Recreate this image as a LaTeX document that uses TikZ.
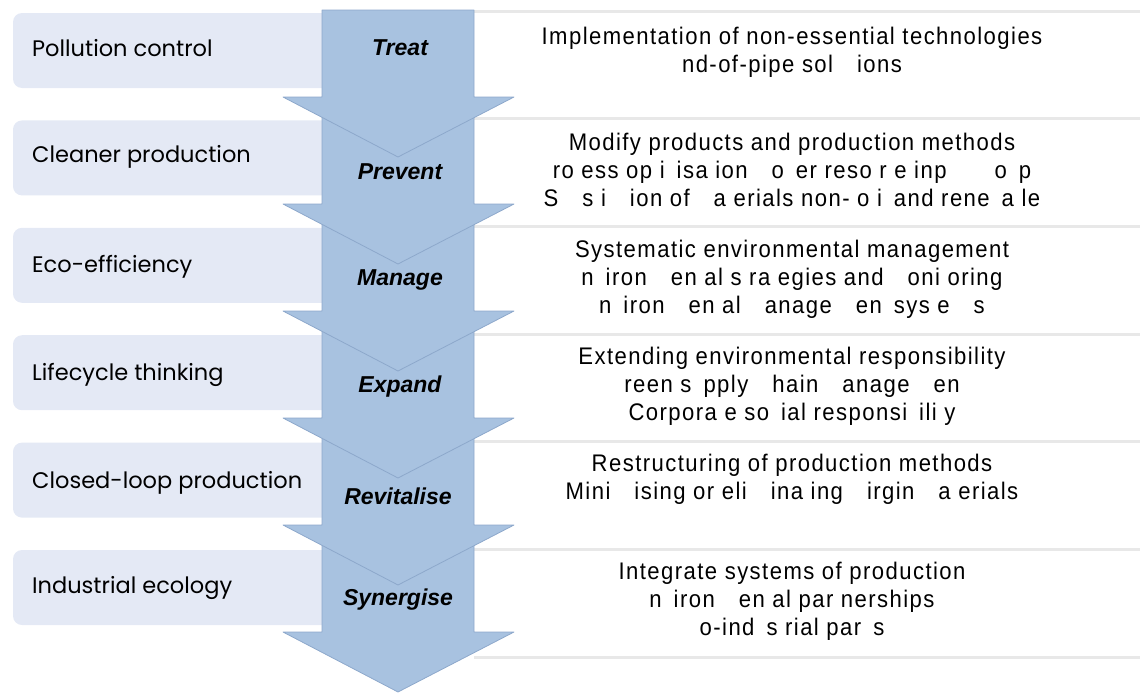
\documentclass[tikz,border=0pt]{standalone}
\usepackage{fontspec}
\setmainfont{Liberation Sans}
\newfontfamily\stagefont{Poppins}
\newfontfamily\notefont[FakeStretch=0.92, LetterSpace=6]{Liberation Sans}
\usepackage{tikz}
\usetikzlibrary{positioning}
\usepackage{xcolor}
\definecolor{arrowblue}{HTML}{A8C2E0}
\definecolor{arrowedge}{HTML}{8DA8CB}
\definecolor{boxlav}{HTML}{E4E9F5}
\definecolor{rulegray}{HTML}{E8E8E8}

\tikzset{
  stage/.style={anchor=west, inner sep=0pt, font=\stagefont\fontsize{22.5}{26}\selectfont},
  action/.style={inner sep=0pt, font=\bfseries\itshape\fontsize{23}{26}\selectfont},
  note/.style={anchor=north, align=center, inner sep=0pt, font=\notefont\fontsize{24}{28}\selectfont},
}

\begin{document}
\begin{tikzpicture}[x=1pt, y=-1pt]
  \useasboundingbox (0,0) rectangle (1140,696);
  % panels on the right
  \foreach \i in {0,...,6}
    \draw[rulegray, line width=3pt] (474,11+107.7*\i) -- (1140,11+107.7*\i);
  % stage boxes on the left
  \foreach \i in {0,...,5}
    \fill[boxlav, rounded corners=9pt] (13,13+107.4*\i) rectangle (470,88+107.4*\i);
  % arrow, lowest segment first
  \foreach \i in {5,4,...,0} {
    \pgfmathsetmacro\sh{97+107*\i}
    \pgfmathsetmacro\shtop{ifthenelse(\i==0,10,\sh-107)}
    \draw[arrowedge, fill=arrowblue, line width=0.8pt, line join=round]
      (322,\shtop) -- (322,\sh) -- (283,\sh) -- (398,\sh+60)
      -- (514,\sh) -- (474,\sh) -- (474,\shtop) -- cycle;
  }
  % stage names
  \node[stage] (pollution)  at (32,48)  {Pollution control};
  \node[stage] (cleaner)    at (32,157) {Cleaner production};
  \node[stage] (ecoeff)     at (32,267) {Eco-efficiency};
  \node[stage] (lifecycle)  at (32,375) {Lifecycle thinking};
  \node[stage] (closedloop) at (32,483) {Closed-loop production};
  \node[stage] (indeco)     at (32,588) {Industrial ecology};
  % actions on the arrow
  \node[action] (treat)      at (400,48)  {Treat};
  \node[action] (prevent)    at (400,172) {Prevent};
  \node[action] (manage)     at (400,280) {Manage};
  \node[action] (expand)     at (400,387) {Expand};
  \node[action] (revitalise) at (398,496) {Revitalise};
  \node[action] (synergise)  at (398,600) {Synergise};
  % notes
  \node[note] (treatnote) at (792,27)
    {Implementation of non-essential technologies\\
     nd-of-pipe sol\quad ions};
  \node[note] (preventnote) at (792,133)
    {Modify products and production methods\\
     ro ess op i\enspace isa ion\quad o\enspace er reso r e inp\qquad o\enspace p\\
     S\quad s i\quad ion of\quad a erials non- o i\enspace and rene\enspace a le};
  \node[note] (managenote) at (792,240)
    {Systematic environmental management\\
     n\enspace iron\quad en al s ra egies and\quad oni oring\\
     n\enspace iron\quad en al\quad anage\quad en\enspace sys e\quad s};
  \node[note] (expandnote) at (792,347)
    {Extending environmental responsibility\\
     reen s\enspace pply\quad hain\quad anage\quad en\\
     Corpora e so\enspace ial responsi\enspace ili y};
  \node[note] (revitnote) at (792,454)
    {Restructuring of production methods\\
     Mini\quad ising or eli\quad ina ing\quad irgin\quad a erials};
  \node[note] (synergnote) at (792,562)
    {Integrate systems of production\\
     n\enspace iron\quad en al par nerships\\
     o-ind\enspace s rial par\enspace s};
\end{tikzpicture}
\end{document}
